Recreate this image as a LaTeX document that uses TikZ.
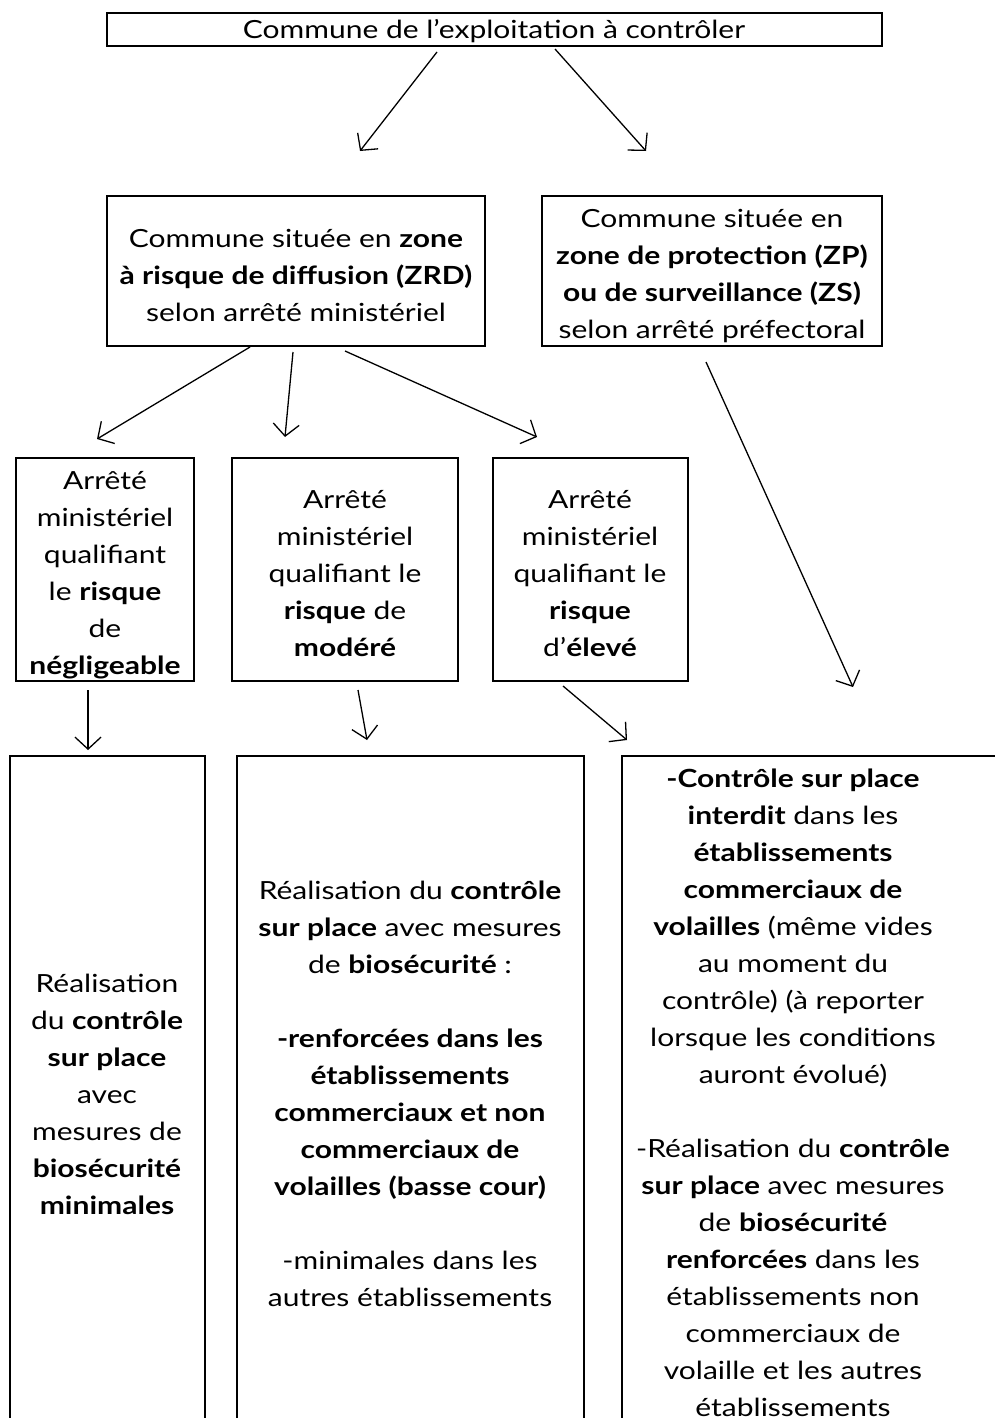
\documentclass[tikz,border=0pt]{standalone}
\usepackage{fontspec}
\setmainfont{Lato}[FakeStretch=1.2]
\usetikzlibrary{arrows.meta}
\begin{document}
\begin{tikzpicture}[x=1pt,y=-1pt,
  box/.style={draw=black,line width=2pt,inner sep=0pt},
  txt/.style={align=center,inner sep=0pt,font=\fontsize{25}{37}\selectfont},
  arr/.style={line width=1.3pt,-{Straight Barb[length=12pt,width=26pt,line width=1.3pt]}}]
\path[use as bounding box] (0,0) rectangle (995,1418);
\fill[white] (0,0) rectangle (995,1418);
% boxes
\node[box,minimum width=775,minimum height=33] (top) at (494.5,29.5) {};
\node[box,minimum width=378,minimum height=150] (zrd) at (296,271) {};
\node[box,minimum width=340,minimum height=150] (zp) at (712,271) {};
\node[box,minimum width=178,minimum height=223] (b1) at (105,569.5) {};
\node[box,minimum width=226,minimum height=223] (b2) at (345,569.5) {};
\node[box,minimum width=195,minimum height=223] (b3) at (590.5,569.5) {};
\node[box,minimum width=195,minimum height=700] (ba) at (107.5,1106) {};
\node[box,minimum width=347,minimum height=700] (bb) at (410.5,1106) {};
\node[box,minimum width=400,minimum height=700] (bc) at (822,1106) {};
% texts
\node[txt] (ttop) at (494,31.5) {Commune de l’exploitation à contrôler};
\node[txt] (tzrd) at (296,275) {Commune située en \textbf{zone}\\ \textbf{à risque de diffusion (ZRD)}\\ selon arrêté ministériel};
\node[txt] (tzp) at (712,276.5) {Commune située en\\ \textbf{zone de protection (ZP)}\\ \textbf{ou de surveillance (ZS)}\\ selon arrêté préfectoral};
\node[txt] (tb1) at (105,575) {Arrêté\\ ministériel\\ qualifiant\\ le \textbf{risque}\\ de\\ \textbf{négligeable}};
\node[txt] (tb2) at (345,573.5) {Arrêté\\ ministériel\\ qualifiant le\\ \textbf{risque} de\\ \textbf{modéré}};
\node[txt] (tb3) at (590,573.5) {Arrêté\\ ministériel\\ qualifiant le\\ \textbf{risque}\\ d’\textbf{élevé}};
\node[txt] (tba) at (107,1094) {Réalisation\\ du \textbf{contrôle}\\ \textbf{sur place}\\ avec\\ mesures de\\ \textbf{biosécurité}\\ \textbf{minimales}};
\node[txt] (tbb) at (410,1094) {Réalisation du \textbf{contrôle}\\ \textbf{sur place} avec mesures\\ de \textbf{biosécurité} :\\[37pt] \textbf{-renforcées dans les}\\ \textbf{établissements}\\ \textbf{commerciaux et non}\\ \textbf{commerciaux de}\\ \textbf{volailles (basse cour)}\\[37pt] -minimales dans les\\ autres établissements};
\node[txt] (tbc) at (793,1093) {\textbf{-Contrôle sur place}\\ \textbf{interdit} dans les\\ \textbf{établissements}\\ \textbf{commerciaux de}\\ \textbf{volailles} (même vides\\ au moment du\\ contrôle) (à reporter\\ lorsque les conditions\\ auront évolué)\\[37pt] -Réalisation du \textbf{contrôle}\\ \textbf{sur place} avec mesures\\ de \textbf{biosécurité}\\ \textbf{renforcées} dans les\\ établissements non\\ commerciaux de\\ volaille et les autres\\ établissements};
% arrow endpoints
\coordinate (a1s) at (437,52);  \coordinate (a1e) at (360,151);
\coordinate (a2s) at (555,49);  \coordinate (a2e) at (646,151);
\coordinate (a3s) at (250,347); \coordinate (a3e) at (97,439);
\coordinate (a4s) at (293,352); \coordinate (a4e) at (285,437);
\coordinate (a5s) at (345,351); \coordinate (a5e) at (537,437);
\coordinate (a6s) at (706,362); \coordinate (a6e) at (853,687);
\coordinate (a7s) at (88,690);  \coordinate (a7e) at (88,750);
\coordinate (a8s) at (358,690); \coordinate (a8e) at (367,740);
\coordinate (a9s) at (563,686); \coordinate (a9e) at (627,740);
\draw[arr] (a1s) -- (a1e);
\draw[arr] (a2s) -- (a2e);
\draw[arr] (a3s) -- (a3e);
\draw[arr] (a4s) -- (a4e);
\draw[arr] (a5s) -- (a5e);
\draw[arr] (a6s) -- (a6e);
\draw[arr] (a7s) -- (a7e);
\draw[arr] (a8s) -- (a8e);
\draw[arr] (a9s) -- (a9e);
\end{tikzpicture}
\end{document}
